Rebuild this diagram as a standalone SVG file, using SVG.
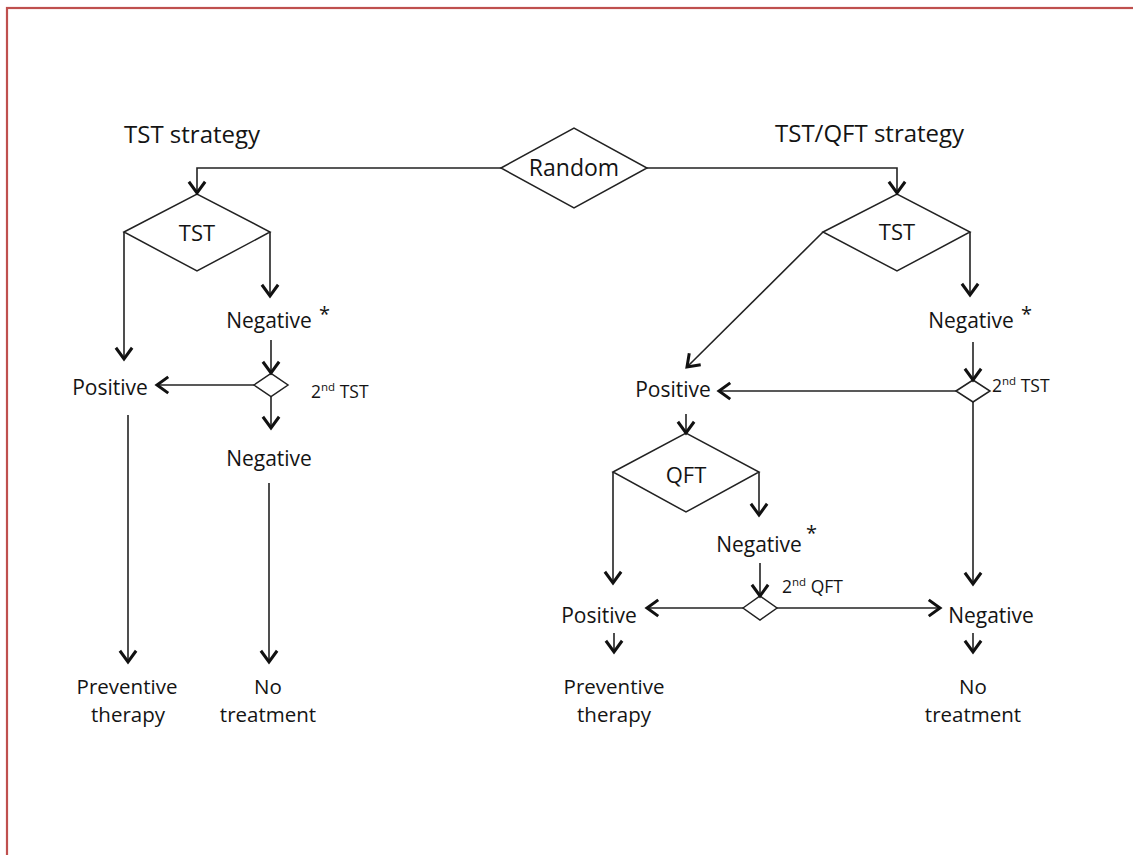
<svg xmlns="http://www.w3.org/2000/svg" width="1133" height="855" viewBox="0 0 1133 855">
  <style>
    .frame { fill: none; stroke: #bf504e; stroke-width: 2.2; }
    .shape { fill: #ffffff; stroke: #222222; stroke-width: 1.5; }
    .link { fill: none; stroke: #222222; stroke-width: 1.6; }
    .arr { marker-end: url(#head); }
    text { font-family: "Open Sans", "Liberation Sans", sans-serif; fill: #141414; }
    .head { font-size: 24px; }
    .lbl { font-size: 21px; text-anchor: middle; }
    .end { font-size: 20.5px; text-anchor: middle; }
    .small { font-size: 17.5px; }
    .sup { font-size: 11.5px; }
    .star { font-size: 20px; }
  </style>
  <defs>
    <marker id="head" markerUnits="userSpaceOnUse" markerWidth="20" markerHeight="20" viewBox="-12 -8 14 16" refX="0" refY="0" orient="auto">
      <path d="M-9,-6.5 L0,0 L-9,6.5" fill="none" stroke="#111111" stroke-width="2.4" stroke-linejoin="miter"/>
    </marker>
  </defs>

  <rect width="1133" height="855" fill="#ffffff"/>
  <rect class="frame" x="7" y="8" width="1150" height="870"/>

  <!-- strategy titles -->
  <g id="title-tst">
    <text class="head" x="124" y="143">TST strategy</text>
  </g>
  <g id="title-tstqft">
    <text class="head" x="775" y="142">TST/QFT strategy</text>
  </g>

  <!-- randomisation -->
  <g id="random">
    <polygon class="shape" points="501,168 574,128 647,168 574,208"/>
    <text class="lbl" x="574" y="176" style="font-size:23px">Random</text>
  </g>

  <!-- TST arm -->
  <g id="tst-left">
    <polygon class="shape" points="124,232 197,194 270,232 197,271"/>
    <text class="lbl" x="197" y="241" style="font-size:22px">TST</text>
  </g>
  <g id="neg1-left">
    <text class="lbl" x="269" y="328">Negative</text>
    <text class="star" x="319" y="321">*</text>
  </g>
  <g id="tst2-left">
    <polygon class="shape" points="254,385 271,373.5 288,385 271,396.5"/>
    <text class="small" x="311" y="398">2<tspan class="sup" dy="-7">nd</tspan><tspan dy="7"> TST</tspan></text>
  </g>
  <g id="pos-left">
    <text class="lbl" x="110" y="395">Positive</text>
  </g>
  <g id="neg2-left">
    <text class="lbl" x="269" y="466">Negative</text>
  </g>
  <g id="therapy-left">
    <text class="end" x="127" y="694">Preventive</text>
    <text class="end" x="128" y="722">therapy</text>
  </g>
  <g id="none-left">
    <text class="end" x="268" y="694">No</text>
    <text class="end" x="268" y="722">treatment</text>
  </g>

  <!-- TST/QFT arm -->
  <g id="tst-right">
    <polygon class="shape" points="823,232 897,194 970,232 897,271"/>
    <text class="lbl" x="897" y="240" style="font-size:22px">TST</text>
  </g>
  <g id="neg1-right">
    <text class="lbl" x="971" y="328">Negative</text>
    <text class="star" x="1021" y="321">*</text>
  </g>
  <g id="tst2-right">
    <polygon class="shape" points="956,391 973,380 990,391 973,402"/>
    <text class="small" x="992" y="392">2<tspan class="sup" dy="-7">nd</tspan><tspan dy="7"> TST</tspan></text>
  </g>
  <g id="pos1-right">
    <text class="lbl" x="673" y="397">Positive</text>
  </g>
  <g id="qft">
    <polygon class="shape" points="613,472 686,433 759,472 686,512"/>
    <text class="lbl" x="686" y="483" style="font-size:22px">QFT</text>
  </g>
  <g id="neg-qft">
    <text class="lbl" x="759" y="552">Negative</text>
    <text class="star" x="806" y="540">*</text>
  </g>
  <g id="qft2">
    <polygon class="shape" points="743,608 760,596 777,608 760,620"/>
    <text class="small" x="782" y="593">2<tspan class="sup" dy="-7">nd</tspan><tspan dy="7"> QFT</tspan></text>
  </g>
  <g id="pos2-right">
    <text class="lbl" x="599" y="623">Positive</text>
  </g>
  <g id="neg2-right">
    <text class="lbl" x="991" y="623">Negative</text>
  </g>
  <g id="therapy-right">
    <text class="end" x="614" y="694">Preventive</text>
    <text class="end" x="614" y="722">therapy</text>
  </g>
  <g id="none-right">
    <text class="end" x="973" y="694">No</text>
    <text class="end" x="973" y="722">treatment</text>
  </g>

  <!-- connectors -->
  <g id="connectors">
    <path class="link arr" d="M501,168 H197 V193"/>
    <path class="link arr" d="M647,168 H897 V193"/>

    <path class="link arr" d="M124,232 V359"/>
    <path class="link arr" d="M270,232 V296"/>
    <path class="link arr" d="M271,340 V373"/>
    <path class="link arr" d="M254,385 H157"/>
    <path class="link arr" d="M271,397 V428"/>
    <path class="link arr" d="M128,415 V662"/>
    <path class="link arr" d="M269,483 V662"/>

    <path class="link arr" d="M970,232 V295"/>
    <path class="link arr" d="M823,232 L687,367"/>
    <path class="link arr" d="M973,342 V380"/>
    <path class="link arr" d="M956,391 H719"/>
    <path class="link arr" d="M973,402 V584"/>
    <path class="link arr" d="M686,414 V433"/>
    <path class="link arr" d="M613,472 V583"/>
    <path class="link arr" d="M759,472 V515"/>
    <path class="link arr" d="M760,563 V596"/>
    <path class="link arr" d="M743,608 H647"/>
    <path class="link arr" d="M777,608 H940"/>
    <path class="link arr" d="M614,633 V652"/>
    <path class="link arr" d="M973,633 V652"/>
  </g>
</svg>
